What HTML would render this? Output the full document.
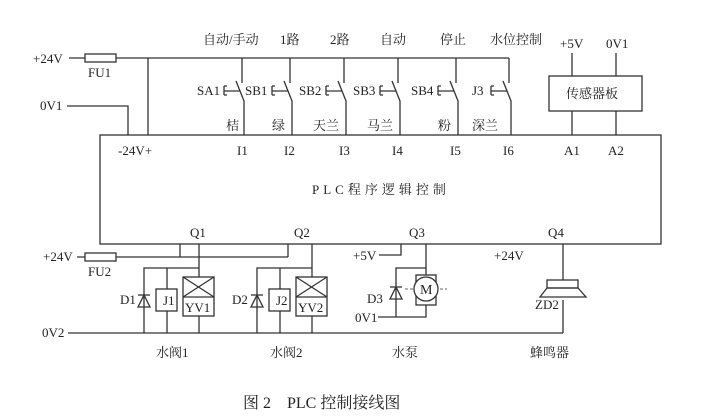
<!DOCTYPE html>
<html><head><meta charset="utf-8"><style>
html,body{margin:0;padding:0;background:#fff;}
svg{display:block}
text{font-family:"Liberation Serif","Noto Serif CJK SC",serif;fill:#222;font-size:13px}
</style></head><body>
<svg width="708" height="420" viewBox="0 0 708 420" xmlns="http://www.w3.org/2000/svg">
<g stroke="#333" stroke-width="1.3" fill="none">
<line x1="69" y1="58" x2="509" y2="58"/>
<rect x="85" y="54" width="31" height="8" fill="#fff"/>
<line x1="148" y1="58" x2="148" y2="135"/>
<polyline points="67,106 128,106 128,135"/>
<rect x="100" y="135" width="561" height="109"/>
<rect x="549" y="76" width="93" height="35"/>
<line x1="572" y1="53" x2="572" y2="76"/><line x1="616" y1="53" x2="616" y2="76"/>
<line x1="572" y1="111" x2="572" y2="135"/><line x1="616" y1="111" x2="616" y2="135"/>
<line x1="77" y1="257" x2="288" y2="257"/>
<rect x="85" y="253" width="31" height="8" fill="#fff"/>
<line x1="180" y1="244" x2="180" y2="257"/>
<line x1="288" y1="244" x2="288" y2="257"/>
<line x1="68" y1="333" x2="563" y2="333"/>
<line x1="199" y1="244" x2="199" y2="277"/>
<polyline points="144,333 144,268 199,268"/>
<line x1="167" y1="268" x2="167" y2="289"/><line x1="167" y1="311" x2="167" y2="333"/>
<rect x="156" y="289" width="21" height="22"/>
<rect x="183" y="277" width="31" height="39"/>
<line x1="183" y1="297" x2="214" y2="297"/>
<line x1="183" y1="277" x2="214" y2="297"/><line x1="214" y1="277" x2="183" y2="297"/>
<line x1="199" y1="316" x2="199" y2="333"/>
<polygon points="138,307 150,307 144,295" />
<line x1="138" y1="295" x2="150" y2="295"/>
<line x1="312" y1="244" x2="312" y2="277"/>
<polyline points="257,333 257,268 312,268"/>
<line x1="280" y1="268" x2="280" y2="289"/><line x1="280" y1="311" x2="280" y2="333"/>
<rect x="269" y="289" width="21" height="22"/>
<rect x="296" y="277" width="31" height="39"/>
<line x1="296" y1="297" x2="327" y2="297"/>
<line x1="296" y1="277" x2="327" y2="297"/><line x1="327" y1="277" x2="296" y2="297"/>
<line x1="312" y1="316" x2="312" y2="333"/>
<polygon points="251,307 263,307 257,295" />
<line x1="251" y1="295" x2="263" y2="295"/>
<polyline points="379,255 401,255 401,244"/>
<line x1="426" y1="244" x2="426" y2="275"/>
<polyline points="396,317 396,268 426,268"/>
<rect x="416" y="275" width="20" height="30"/>
<line x1="405" y1="289" x2="447" y2="289" stroke-dasharray="3,2" stroke="#888"/>
<circle cx="426" cy="289" r="12" fill="#fff"/>
<polyline points="378,317 426,317 426,305"/>
<polygon points="390,299 402,299 396,287"/>
<line x1="390" y1="287" x2="402" y2="287"/>
<line x1="563" y1="244" x2="563" y2="280"/>
<rect x="547" y="280" width="31" height="8"/>
<polygon points="547,288 578,288 586,297 540,297"/>
<line x1="563" y1="300" x2="563" y2="333"/>
</g>
<g stroke="#333" stroke-width="1.3" fill="none">
<path d="M242 58V83 M236 81L244 101V135 M224 86V95 M224 86h3 M224 95h3 M224 91H240"/>
<path d="M290 58V83 M284 81L292 101V135 M272 86V95 M272 86h3 M272 95h3 M272 91H288"/>
<path d="M344 58V83 M338 81L346 101V135 M326 86V95 M326 86h3 M326 95h3 M326 91H342"/>
<path d="M398 58V83 M392 81L400 101V135 M380 86V95 M380 86h3 M380 95h3 M380 91H396"/>
<path d="M456 58V83 M450 81L458 101V135 M438 86V95 M438 86h3 M438 95h3 M438 91H454"/>
<path d="M509 58V83 M503 81L511 101V135 M491 86V95 M491 86h3 M491 95h3 M491 91H507"/>
</g>
<text x="33" y="63">+24V</text>
<text x="88" y="77">FU1</text>
<text x="40" y="110">0V1</text>
<text x="203" y="44">自动/手动</text>
<text x="280" y="44">1路</text>
<text x="330" y="44">2路</text>
<text x="380" y="44">自动</text>
<text x="440" y="44">停止</text>
<text x="490" y="44">水位控制</text>
<text x="560" y="48">+5V</text>
<text x="606" y="48">0V1</text>
<text x="197" y="95">SA1</text>
<text x="245" y="95">SB1</text>
<text x="299" y="95">SB2</text>
<text x="353" y="95">SB3</text>
<text x="411" y="95">SB4</text>
<text x="472" y="95">J3</text>
<text x="226" y="130">桔</text>
<text x="272" y="130">绿</text>
<text x="313" y="130">天兰</text>
<text x="367" y="130">马兰</text>
<text x="438" y="130">粉</text>
<text x="472" y="130">深兰</text>
<text x="566" y="98">传感器板</text>
<text x="118" y="155">-24V+</text>
<text x="237" y="155">I1</text>
<text x="284" y="155">I2</text>
<text x="339" y="155">I3</text>
<text x="392" y="155">I4</text>
<text x="450" y="155">I5</text>
<text x="503" y="155">I6</text>
<text x="564" y="155">A1</text>
<text x="608" y="155">A2</text>
<text x="312" y="194" letter-spacing="4">PLC程序逻辑控制</text>
<text x="190" y="237">Q1</text>
<text x="294" y="237">Q2</text>
<text x="409" y="237">Q3</text>
<text x="548" y="237">Q4</text>
<text x="43" y="261">+24V</text>
<text x="88" y="276">FU2</text>
<text x="353" y="260">+5V</text>
<text x="494" y="260">+24V</text>
<text x="120" y="304">D1</text>
<text x="232" y="304">D2</text>
<text x="367" y="303">D3</text>
<text x="163" y="305">J1</text>
<text x="276" y="305">J2</text>
<text x="185" y="312">YV1</text>
<text x="298" y="312">YV2</text>
<text x="420" y="294" style="font-size:14px">M</text>
<text x="355" y="322">0V1</text>
<text x="535" y="309">ZD2</text>
<text x="42" y="337">0V2</text>
<text x="156" y="357">水阀1</text>
<text x="270" y="357">水阀2</text>
<text x="392" y="357">水泵</text>
<text x="530" y="357">蜂鸣器</text>
<text x="243" y="408" style="font-size:16px">图 2　PLC 控制接线图</text>
</svg>
</body></html>
